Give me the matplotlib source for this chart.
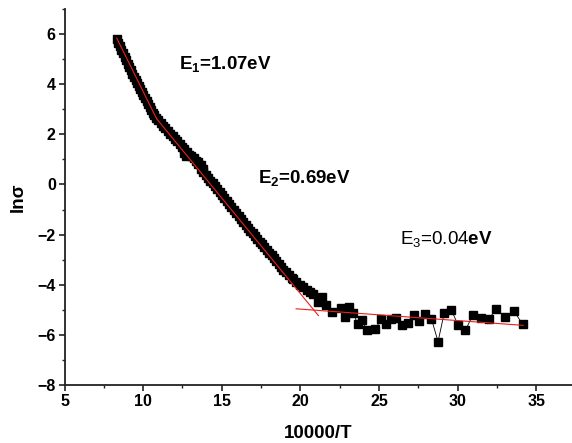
import numpy as np
import matplotlib.pyplot as plt
from matplotlib.ticker import MultipleLocator

plt.rcParams['font.family'] = ['Liberation Sans', 'DejaVu Sans']
plt.rcParams['mathtext.fontset'] = 'custom'
plt.rcParams['mathtext.rm'] = 'Liberation Sans'
plt.rcParams['mathtext.bf'] = 'Liberation Sans:bold'
plt.rcParams['mathtext.it'] = 'Liberation Sans:italic'
plt.rcParams['mathtext.default'] = 'rm'

# measured points: 10000/T and ln(sigma)
inv_t = [8.32, 8.42, 8.52, 8.62, 8.72, 8.82, 8.92, 9.02, 9.12, 9.22,
         9.32, 9.42, 9.52, 9.62, 9.72, 9.82, 9.92, 10.02, 10.12, 10.22,
         10.32, 10.42, 10.52, 10.62, 10.72, 10.82, 10.97, 11.12, 11.27, 11.42,
         11.57, 11.72, 11.87, 12.02, 12.17, 12.32, 12.47, 12.60, 12.62, 12.75,
         12.77, 12.92, 13.07, 13.22, 13.37, 13.50, 13.52, 13.65, 13.67, 13.80,
         13.82, 13.97, 14.12, 14.27, 14.42, 14.57, 14.72, 14.87, 15.02, 15.17,
         15.32, 15.47, 15.62, 15.77, 15.92, 16.07, 16.22, 16.37, 16.52, 16.67,
         16.82, 16.97, 17.12, 17.27, 17.42, 17.57, 17.72, 17.87, 18.02, 18.17,
         18.32, 18.47, 18.62, 18.77, 18.92, 19.07, 19.25, 19.45, 19.56, 19.75,
         19.95, 20.19, 20.40, 20.60, 20.83, 21.10, 21.36, 21.63, 22.02, 22.56,
         22.84, 23.07, 23.37, 23.65, 23.93, 24.23, 24.77, 25.16, 25.46, 25.79,
         26.09, 26.44, 26.85, 27.20, 27.55, 27.95, 28.34, 28.76, 29.15, 29.59,
         30.03, 30.50, 30.96, 31.50, 32.00, 32.47, 33.00, 33.59, 34.14]
ln_sigma = [5.81, 5.66, 5.52, 5.37, 5.23, 5.09, 4.95, 4.81, 4.68, 4.55,
            4.42, 4.29, 4.16, 4.04, 3.91, 3.79, 3.67, 3.55, 3.43, 3.32,
            3.20, 3.09, 2.98, 2.87, 2.76, 2.66, 2.56, 2.45, 2.35, 2.24,
            2.14, 2.03, 1.93, 1.82, 1.72, 1.61, 1.51, 1.25, 1.40, 1.15,
            1.30, 1.19, 1.12, 1.05, 0.93, 0.90, 0.80, 0.78, 0.62, 0.62,
            0.49, 0.38, 0.27, 0.15, 0.04, -0.08, -0.20, -0.31, -0.43, -0.55,
            -0.67, -0.78, -0.90, -1.01, -1.13, -1.24, -1.36, -1.48, -1.60, -1.72,
            -1.84, -1.95, -2.06, -2.17, -2.28, -2.39, -2.50, -2.61, -2.72, -2.83,
            -2.94, -3.06, -3.18, -3.30, -3.41, -3.50, -3.60, -3.72, -3.78, -3.88,
            -4.00, -4.10, -4.22, -4.30, -4.36, -4.69, -4.49, -4.79, -5.09, -4.92,
            -5.27, -4.89, -5.13, -5.58, -5.42, -5.80, -5.76, -5.36, -5.56, -5.36,
            -5.32, -5.59, -5.53, -5.22, -5.45, -5.16, -5.36, -6.27, -5.13, -4.99,
            -5.60, -5.82, -5.22, -5.33, -5.36, -4.96, -5.29, -5.05, -5.58]

# linear fits (end points)
fit1_x = [8.32, 10.86]
fit1_y = [5.84, 2.62]
fit2_x = [10.86, 21.15]
fit2_y = [2.62, -5.23]
fit3_x = [19.73, 34.18]
fit3_y = [-4.96, -5.62]

fig = plt.figure(figsize=(5.72, 4.43), dpi=100)
ax = fig.add_axes([0.1128, 0.1309, 0.8872, 0.8488])

ax.plot(inv_t, ln_sigma, '-s', color='black', lw=0.6, ms=5.6, mec='black', mfc='black')
for fx, fy in [(fit1_x, fit1_y), (fit2_x, fit2_y), (fit3_x, fit3_y)]:
    ax.plot(fx, fy, color='#e8201a', lw=0.8)

ax.set_xlim(5, 37.28)
ax.set_ylim(-8, 7)
ax.xaxis.set_major_locator(MultipleLocator(5))
ax.xaxis.set_minor_locator(MultipleLocator(2.5))
ax.yaxis.set_major_locator(MultipleLocator(2))
ax.yaxis.set_minor_locator(MultipleLocator(1))
ax.set_yticks(np.arange(-8, 7, 2))

for s in ['top', 'right']:
    ax.spines[s].set_visible(False)
for s in ['left', 'bottom']:
    ax.spines[s].set_color('#222222')
    ax.spines[s].set_linewidth(1.3)

ax.tick_params(which='major', direction='out', length=4.3, width=1.2, color='#222222',
               labelsize=11.5, pad=2)
ax.tick_params(which='minor', direction='out', length=2.5, width=1.0, color='#222222')
for lab in ax.get_xticklabels() + ax.get_yticklabels():
    lab.set_fontweight('bold')

ax.set_xlabel('10000/T', fontsize=13.5, fontweight='bold', labelpad=12)
ax.set_ylabel('lnσ', fontsize=13.5, fontweight='bold', labelpad=8)

ax.text(12.30, 4.61, r'E$_\mathbf{1}$=1.07eV', fontsize=13.5, fontweight='bold', va='baseline')
ax.text(17.31, 0.07, r'E$_\mathbf{2}$=0.69eV', fontsize=13.5, fontweight='bold', va='baseline')
ax.text(26.34, -2.37, r'E$_3$=0.04$\mathbf{eV}$', fontsize=13.5, va='baseline')

fig.savefig('out.png', dpi=100)
